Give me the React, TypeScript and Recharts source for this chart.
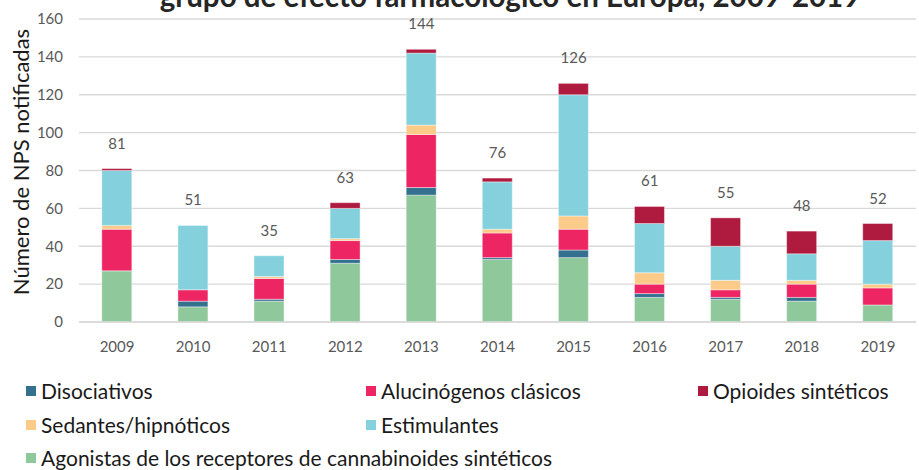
import React from 'react';
import { ComposedChart, Bar, Line, XAxis, YAxis, CartesianGrid, LabelList } from 'recharts';

const years = ['2009', '2010', '2011', '2012', '2013', '2014', '2015', '2016', '2017', '2018', '2019'];
const agonistas = [27, 8, 11, 31, 67, 33, 34, 13, 12, 11, 9];
const disociativos = [0, 3, 1, 2, 4, 1, 4, 2, 1, 2, 0];
const alucinogenos = [22, 6, 11, 10, 28, 13, 11, 5, 4, 7, 9];
const sedantes = [2, 0, 1, 1, 5, 2, 7, 6, 5, 2, 2];
const estimulantes = [29, 34, 11, 16, 38, 25, 64, 26, 18, 14, 23];
const opioides = [1, 0, 0, 3, 2, 2, 6, 9, 15, 12, 9];
const totals = [81, 51, 35, 63, 144, 76, 126, 61, 55, 48, 52];
const yTicks = [0, 20, 40, 60, 80, 100, 120, 140, 160];

const titleText = 'grupo de efecto farmacológico en Europa, 2009-2019';
const yLabel = 'Número de NPS notificadas';

const series = [
  { key: 'agonistas', name: 'Agonistas de los receptores de cannabinoides sintéticos', color: '#8FC89A', values: agonistas },
  { key: 'disociativos', name: 'Disociativos', color: '#34718F', values: disociativos },
  { key: 'alucinogenos', name: 'Alucinógenos clásicos', color: '#EE2563', values: alucinogenos },
  { key: 'sedantes', name: 'Sedantes/hipnóticos', color: '#FCCB8A', values: sedantes },
  { key: 'estimulantes', name: 'Estimulantes', color: '#84D1DD', values: estimulantes },
  { key: 'opioides', name: 'Opioides sintéticos', color: '#AF1A3F', values: opioides },
];

const legendItems = [
  { key: 'disociativos', col: 0, row: 0 },
  { key: 'alucinogenos', col: 1, row: 0 },
  { key: 'opioides', col: 2, row: 0 },
  { key: 'sedantes', col: 0, row: 1 },
  { key: 'estimulantes', col: 1, row: 1 },
  { key: 'agonistas', col: 0, row: 2 },
];
const legendColX = [26, 366, 698];
const legendRowY = [391, 425, 458];

const data = years.map((year, i) => {
  const row: Record<string, number | string> = { year, total: totals[i] };
  series.forEach((s) => {
    row[s.key] = s.values[i];
  });
  return row;
});

const FONT = 'Lato, "Open Sans", sans-serif';

export default function App() {
  return (
    <div style={{ position: 'absolute', left: 0, top: 0, width: 919, height: 470, background: '#fff', fontFamily: FONT, overflow: 'hidden' }}>
      <ComposedChart
        width={919}
        height={470}
        data={data}
        margin={{ top: 19, right: 3, bottom: 118, left: 19 }}
        barCategoryGap="30%"
      >
        <CartesianGrid vertical={false} stroke="#d9d9d9" strokeWidth={1.3} />
        <XAxis
          dataKey="year"
          height={30}
          axisLine={{ stroke: '#d9d9d9', strokeWidth: 1.3 }}
          tickLine={false}
          tickSize={6}
          tickMargin={13}
          tick={{ fill: '#595959', fontSize: 15, fontFamily: FONT }}
        />
        <YAxis
          width={60}
          domain={[0, 160]}
          ticks={yTicks}
          interval={0}
          axisLine={false}
          tickLine={false}
          tickSize={6}
          tickMargin={10}
          tick={{ fill: '#595959', fontSize: 15, fontFamily: FONT }}
        />
        {series.map((s) => (
          <Bar
            key={s.key}
            dataKey={s.key}
            name={s.name}
            stackId="a"
            fill={s.color}
            stroke="#ffffff"
            strokeWidth={0.4}
            isAnimationActive={false}
          />
        ))}
        <Line
          dataKey="total"
          stroke="none"
          dot={false}
          activeDot={false}
          legendType="none"
          isAnimationActive={false}
        >
          <LabelList dataKey="total" position="top" offset={20} fill="#595959" fontSize={15} fontFamily={FONT} />
        </Line>
      </ComposedChart>
      <svg width={919} height={470} style={{ position: 'absolute', left: 0, top: 0, pointerEvents: 'none' }}>
        <text x={510} y={7} textAnchor="middle" fontWeight="bold" fontSize={29.5} fill="#262626" fontFamily={FONT}>
          {titleText}
        </text>
        <text
          x={20}
          y={162}
          transform="rotate(-90 20 162)"
          textAnchor="middle"
          dominantBaseline="central"
          fontSize={22}
          fill="#1a1a1a"
          fontFamily={FONT}
        >
          {yLabel}
        </text>
      </svg>
      {legendItems.map((item) => {
        const s = series.find((x) => x.key === item.key)!;
        const x = legendColX[item.col];
        const cy = legendRowY[item.row];
        return (
          <div key={item.key}>
            <div style={{ position: 'absolute', left: x, top: cy - 5, width: 10, height: 10, background: s.color }} />
            <div
              style={{
                position: 'absolute',
                left: x + 15,
                top: cy - 12,
                height: 24,
                lineHeight: '24px',
                fontSize: 21,
                color: '#1a1a1a',
                whiteSpace: 'nowrap',
                fontFamily: FONT,
              }}
            >
              {s.name}
            </div>
          </div>
        );
      })}
    </div>
  );
}
